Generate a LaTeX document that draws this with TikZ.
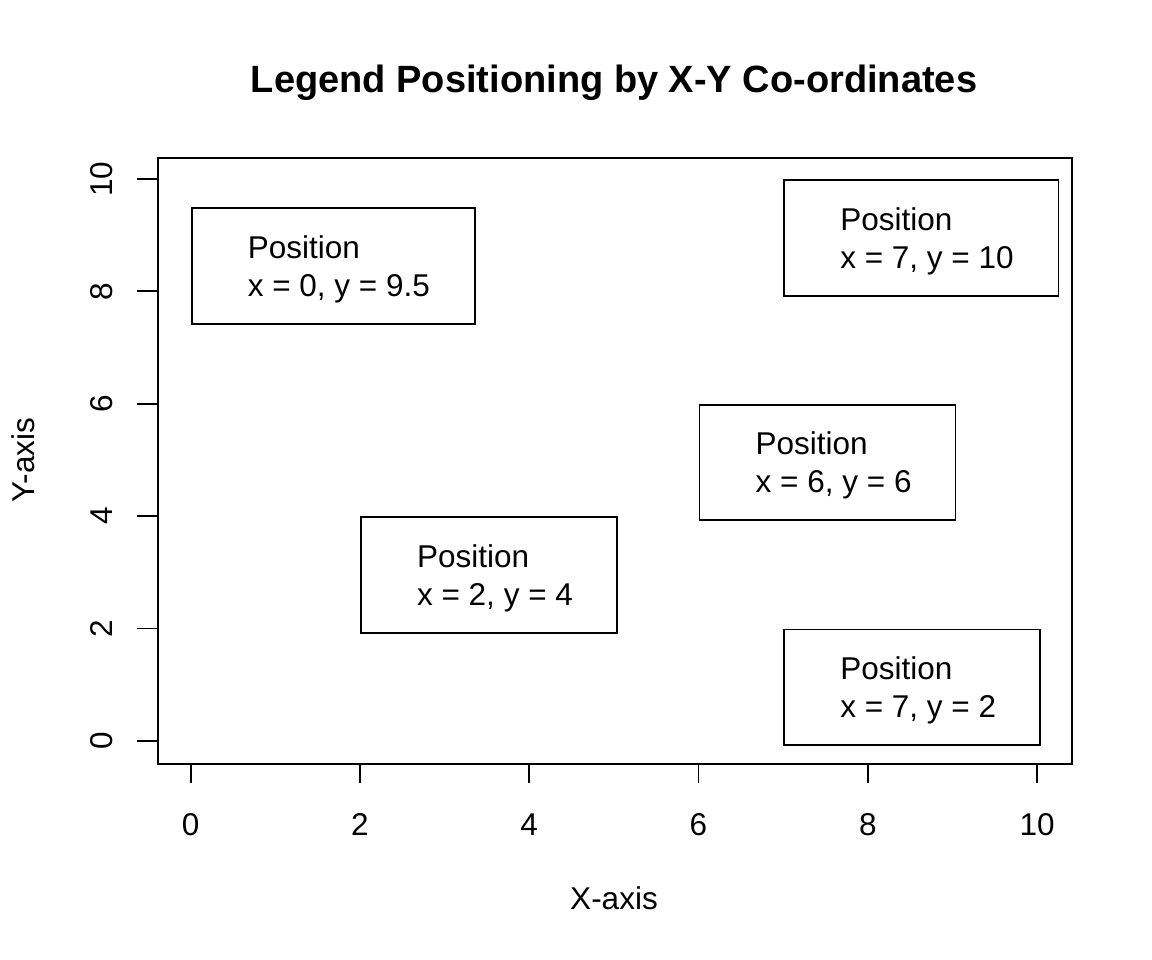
\documentclass[tikz,border=0pt]{standalone}
\usepackage{fontspec}
\setmainfont{Liberation Sans}
\usetikzlibrary{calc}
\begin{document}
\begin{tikzpicture}[x=1bp,y=-1bp,
  lab/.style={font=\fontsize{31.5bp}{36bp}\selectfont, inner sep=0pt},
  ttl/.style={font=\fontsize{38bp}{44bp}\selectfont\bfseries, inner sep=0pt},
  axline/.style={line width=1.9bp},
  legbox/.style={draw, line width=1.9bp, inner sep=0pt, anchor=north west, minimum height=115.5bp},
  legtxt/.style={lab, anchor=base west}]
\useasboundingbox (0,0) rectangle (1152,960);
% title and axis labels
\node[ttl, anchor=base] (title) at (614,92) {Legend Positioning by X-Y Co-ordinates};
\node[lab, anchor=base] (xlab) at (614,909) {X-axis};
\node[lab, anchor=base, rotate=90] (ylab) at (34,460) {Y-axis};
% plot frame
\node[draw, axline, inner sep=0pt, anchor=north west, minimum width=914.4bp, minimum height=606.6bp] (frame) at (156.7,156.7) {};
% ticks
\foreach \v in {0,2,...,10}{
  \draw[axline] (190.6+84.65*\v,763.3) -- ++(0,20);
  \node[lab, anchor=base] (xt\v) at (190.6+84.65*\v,835) {\v};
  \draw[axline] (156.7,740.8-56.17*\v) -- ++(-20,0);
  \node[lab, anchor=base, rotate=90] (yt\v) at (112,740.8-56.17*\v) {\v};
}
% legends
\node[legbox, minimum width=283bp] (L1) at (190.6,207.2) {};
\node[legtxt] (L1a) at ($(L1.north west)+(57,51)$) {Position};
\node[legtxt] (L1b) at ($(L1.north west)+(57,89)$) {x = 0, y = 9.5};

\node[legbox, minimum width=274.4bp] (L2) at (783.1,179.2) {};
\node[legtxt] (L2a) at ($(L2.north west)+(57,51)$) {Position};
\node[legtxt] (L2b) at ($(L2.north west)+(57,89)$) {x = 7, y = 10};

\node[legbox, minimum width=256bp] (L3) at (698.5,403.8) {};
\node[legtxt] (L3a) at ($(L3.north west)+(57,51)$) {Position};
\node[legtxt] (L3b) at ($(L3.north west)+(57,89)$) {x = 6, y = 6};

\node[legbox, minimum width=256bp] (L4) at (359.9,516.1) {};
\node[legtxt] (L4a) at ($(L4.north west)+(57,51)$) {Position};
\node[legtxt] (L4b) at ($(L4.north west)+(57,89)$) {x = 2, y = 4};

\node[legbox, minimum width=256bp] (L5) at (783.1,628.5) {};
\node[legtxt] (L5a) at ($(L5.north west)+(57,51)$) {Position};
\node[legtxt] (L5b) at ($(L5.north west)+(57,89)$) {x = 7, y = 2};
\end{tikzpicture}
\end{document}
